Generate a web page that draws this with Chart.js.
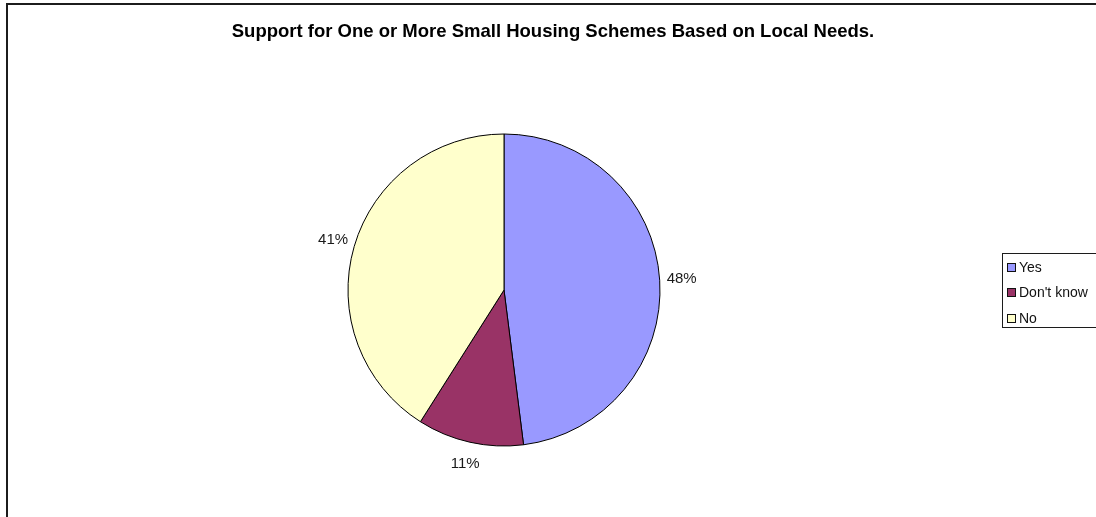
<!DOCTYPE html>
<html>
<head>
<meta charset="utf-8">
<script src="https://cdn.jsdelivr.net/npm/chart.js@4/dist/chart.umd.min.js"></script>
<style>
  html, body { margin: 0; padding: 0; background: #ffffff; overflow: hidden; }
  #wrap { position: absolute; left: 0; top: 0; width: 1096px; height: 517px; }
</style>
</head>
<body>
<div id="wrap"><canvas id="chart" width="1096" height="517"></canvas></div>
<script>
// Survey answers and their share of responses (percent)
const categories = ["Yes", "Don't know", "No"];
const shares = [48, 11, 41];
const sliceColors = ["#9999FF", "#993366", "#FFFFCC"];
const chartTitle = "Support for One or More Small Housing Schemes Based on Local Needs.";

const FONT = "'Liberation Sans', Arial, sans-serif";

// Outer frame around the whole chart and the heading
const framePlugin = {
  id: 'frame',
  beforeDraw(chart) {
    const ctx = chart.ctx;
    ctx.save();
    ctx.fillStyle = '#ffffff';
    ctx.fillRect(0, 0, chart.width, chart.height);
    ctx.strokeStyle = '#1c1c1c';
    ctx.lineWidth = 2;
    ctx.strokeRect(7, 4, chart.width + 50, chart.height + 50);
    ctx.font = 'bold 18.5px ' + FONT;
    ctx.fillStyle = '#000000';
    ctx.textAlign = 'center';
    ctx.textBaseline = 'alphabetic';
    ctx.fillText(chart.options.plugins.heading.text, 553, 37);
    ctx.restore();
  }
};

// Percentage labels placed just outside each slice
const outsideLabels = {
  id: 'outsideLabels',
  afterDatasetsDraw(chart) {
    const ctx = chart.ctx;
    const meta = chart.getDatasetMeta(0);
    const values = chart.data.datasets[0].data;
    ctx.save();
    ctx.font = '15px ' + FONT;
    ctx.fillStyle = '#1a1a1a';
    ctx.textAlign = 'center';
    ctx.textBaseline = 'middle';
    meta.data.forEach((arc, i) => {
      const p = arc.getProps(['x', 'y', 'startAngle', 'endAngle', 'outerRadius'], true);
      const mid = (p.startAngle + p.endAngle) / 2;
      const r = p.outerRadius + 22;
      ctx.fillText(values[i] + '%', p.x + Math.cos(mid) * r, p.y + Math.sin(mid) * r);
    });
    ctx.restore();
  }
};

// Boxed legend on the right
const boxLegend = {
  id: 'boxLegend',
  afterDraw(chart) {
    const ctx = chart.ctx;
    const labels = chart.data.labels;
    const colors = chart.data.datasets[0].backgroundColor;
    const left = 1002, top = 253, rowH = 25.5, firstY = 267;
    ctx.save();
    ctx.fillStyle = '#ffffff';
    ctx.fillRect(left, top, chart.width - left + 10, 74);
    ctx.strokeStyle = '#1c1c1c';
    ctx.lineWidth = 1;
    ctx.strokeRect(left + 0.5, top + 0.5, chart.width - left + 10, 74);
    ctx.font = '14px ' + FONT;
    ctx.textBaseline = 'middle';
    ctx.textAlign = 'left';
    labels.forEach((lab, i) => {
      const y = firstY + i * rowH;
      ctx.fillStyle = colors[i];
      ctx.fillRect(1007.5, Math.round(y - 4.5) + 0.5, 8, 8);
      ctx.strokeStyle = '#111111';
      ctx.strokeRect(1007.5, Math.round(y - 4.5) + 0.5, 8, 8);
      ctx.fillStyle = '#111111';
      ctx.fillText(lab, 1019, y + 1);
    });
    ctx.restore();
  }
};

new Chart(document.getElementById('chart'), {
  type: 'pie',
  data: {
    labels: categories,
    datasets: [{
      data: shares,
      backgroundColor: sliceColors,
      borderColor: '#000000',
      borderWidth: 1,
      hoverOffset: 0
    }]
  },
  options: {
    responsive: false,
    animation: false,
    events: [],
    layout: {
      padding: { left: 347.5, right: 435.5, top: 133.5, bottom: 70.5 }
    },
    plugins: {
      legend: { display: false },
      tooltip: { enabled: false },
      title: { display: false },
      heading: { text: chartTitle }
    }
  },
  plugins: [framePlugin, outsideLabels, boxLegend]
});
</script>
</body>
</html>
